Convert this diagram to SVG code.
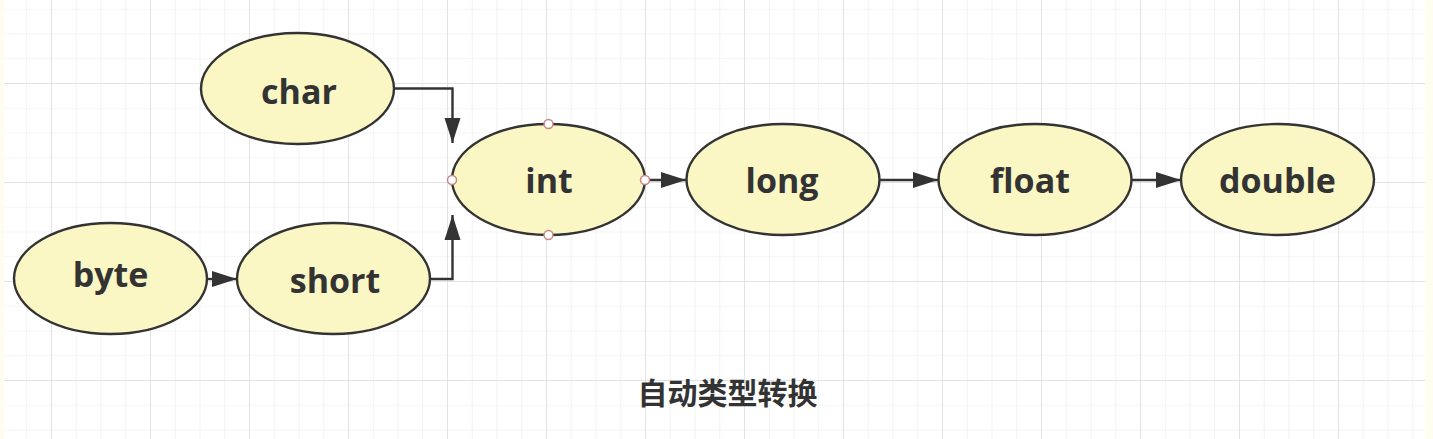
<svg xmlns="http://www.w3.org/2000/svg" width="1433" height="439" viewBox="0 0 1433 439">
  <defs>
    <pattern id="minor" x="51" y="83" width="24.75" height="24.75" patternUnits="userSpaceOnUse">
      <path d="M 0 0 L 0 24.75 M 0 0 L 24.75 0" fill="none" stroke="#ebebeb" stroke-width="1.2"/>
    </pattern>
    <pattern id="major" x="51" y="83" width="99" height="99" patternUnits="userSpaceOnUse">
      <path d="M 0 0 L 0 99 M 0 0 L 99 0" fill="none" stroke="#dddddd" stroke-width="1.4"/>
    </pattern>
    <marker id="arrow" markerUnits="userSpaceOnUse" markerWidth="26" markerHeight="18" refX="25" refY="9" orient="auto">
      <path d="M 0 1 L 25 9 L 0 17 Z" fill="#333"/>
    </marker>
    <style>
      .node ellipse { fill: #faf7c4; stroke: #333; stroke-width: 2.4; }
      .node text { font-family: "Open Sans", "Noto Sans", sans-serif; font-weight: 700; font-size: 34px; fill: #333; text-anchor: middle; }
      .conn { fill: none; stroke: #333; stroke-width: 2.4; marker-end: url(#arrow); }
      .handle { fill: #fff; stroke: #c98484; stroke-width: 1.5; }
      .caption { font-family: "Noto Sans CJK SC", "Noto Sans", sans-serif; font-weight: 700; font-size: 30px; fill: #333; text-anchor: middle; }
    </style>
  </defs>

  <rect x="0" y="0" width="1433" height="439" fill="#ffffff"/>
  <rect x="4" y="0" width="1421" height="439" fill="url(#minor)"/>
  <rect x="4" y="0" width="1421" height="439" fill="url(#major)"/>
  <rect x="0" y="0" width="4" height="439" fill="#fffdf0"/>
  <rect x="1425" y="0" width="8" height="439" fill="#fffdf0"/>

  <g id="connectors">
    <polyline class="conn" points="394,88.5 452.5,88.5 452.5,143"/>
    <polyline class="conn" points="430,279 452.5,279 452.5,215"/>
    <line class="conn" x1="207" y1="279" x2="237" y2="279"/>
    <line class="conn" x1="645" y1="180" x2="686" y2="180"/>
    <line class="conn" x1="879" y1="180" x2="938" y2="180"/>
    <line class="conn" x1="1132" y1="180" x2="1181" y2="180"/>
  </g>

  <g id="node-char" class="node">
    <ellipse cx="297.5" cy="88.5" rx="96.5" ry="55.5"/>
    <text x="299" y="104">char</text>
  </g>
  <g id="node-byte" class="node">
    <ellipse cx="110.5" cy="278.5" rx="96.5" ry="55.5"/>
    <text x="110.5" y="287">byte</text>
  </g>
  <g id="node-short" class="node">
    <ellipse cx="333.5" cy="278.5" rx="96.5" ry="55.5"/>
    <text x="335" y="293">short</text>
  </g>
  <g id="node-int" class="node">
    <ellipse cx="548.5" cy="179.5" rx="96.5" ry="55.5"/>
    <text x="549" y="193">int</text>
    <circle class="handle" cx="548.5" cy="124" r="4.5"/>
    <circle class="handle" cx="548.5" cy="235" r="4.5"/>
    <circle class="handle" cx="452" cy="180" r="4.5"/>
    <circle class="handle" cx="645" cy="180" r="4.5"/>
  </g>
  <g id="node-long" class="node">
    <ellipse cx="783" cy="179.5" rx="96.5" ry="55.5"/>
    <text x="782" y="193">long</text>
  </g>
  <g id="node-float" class="node">
    <ellipse cx="1035" cy="179.5" rx="96.5" ry="55.5"/>
    <text x="1030" y="193">float</text>
  </g>
  <g id="node-double" class="node">
    <ellipse cx="1277.5" cy="179.5" rx="96.5" ry="55.5"/>
    <text x="1277.5" y="193">double</text>
  </g>

  <g id="caption">
    <text class="caption" x="727.5" y="404">自动类型转换</text>
  </g>
</svg>
